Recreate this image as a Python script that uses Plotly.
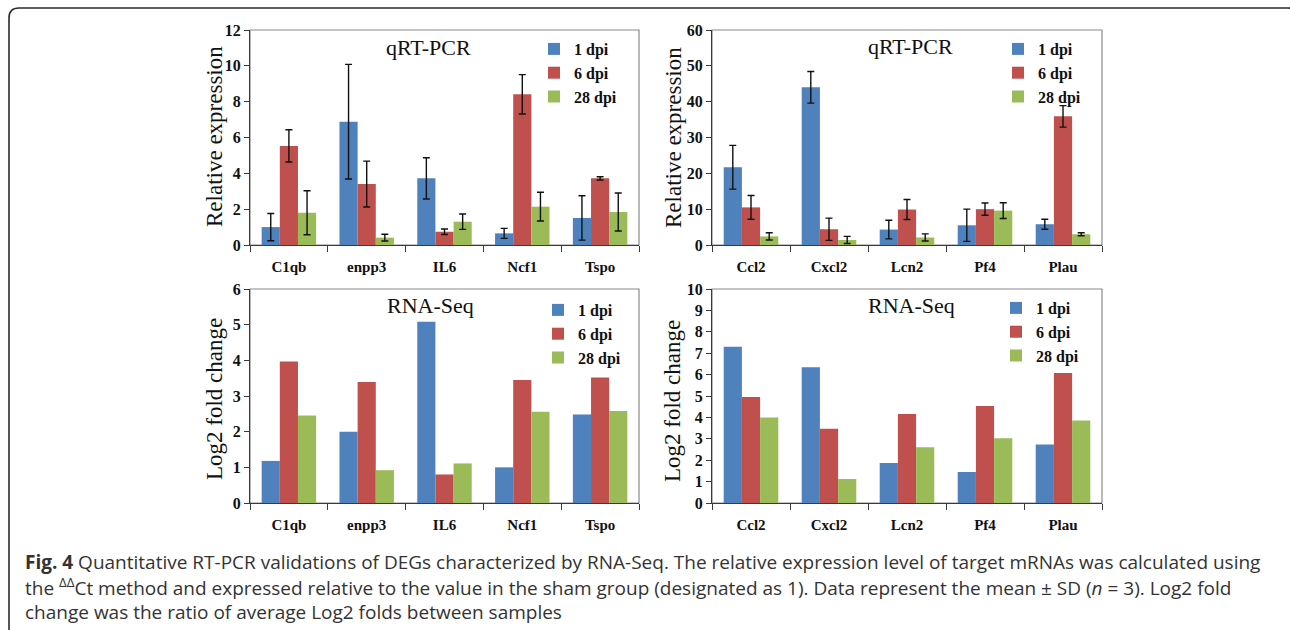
import plotly.graph_objects as go

# ---------------- data ----------------
series = ["1 dpi", "6 dpi", "28 dpi"]
colors = ["#4F81BD", "#C0504D", "#9BBB59"]

genes_a = ["C1qb", "enpp3", "IL6", "Ncf1", "Tspo"]
genes_b = ["Ccl2", "Cxcl2", "Lcn2", "Pf4", "Plau"]

# qRT-PCR relative expression (panel A genes)
qpcr_a_1dpi = [1.00, 6.88, 3.72, 0.65, 1.51]
qpcr_a_6dpi = [5.53, 3.40, 0.74, 8.41, 3.72]
qpcr_a_28dpi = [1.80, 0.41, 1.30, 2.14, 1.84]
qpcr_a_1dpi_sd = [0.76, 3.20, 1.15, 0.28, 1.24]
qpcr_a_6dpi_sd = [0.90, 1.28, 0.15, 1.10, 0.09]
qpcr_a_28dpi_sd = [1.23, 0.19, 0.43, 0.80, 1.06]

# qRT-PCR relative expression (panel B genes)
qpcr_b_1dpi = [21.7, 44.0, 4.3, 5.5, 5.8]
qpcr_b_6dpi = [10.5, 4.4, 9.9, 10.0, 35.9]
qpcr_b_28dpi = [2.4, 1.4, 2.1, 9.6, 3.0]
qpcr_b_1dpi_sd = [6.1, 4.4, 2.6, 4.5, 1.4]
qpcr_b_6dpi_sd = [3.3, 3.1, 2.8, 1.7, 3.0]
qpcr_b_28dpi_sd = [1.0, 1.0, 1.0, 2.2, 0.4]

# RNA-Seq log2 fold change
rna_a_1dpi = [1.18, 2.00, 5.08, 1.00, 2.48]
rna_a_6dpi = [3.97, 3.39, 0.80, 3.45, 3.52]
rna_a_28dpi = [2.45, 0.92, 1.11, 2.56, 2.58]

rna_b_1dpi = [7.30, 6.34, 1.87, 1.45, 2.73]
rna_b_6dpi = [4.95, 3.47, 4.16, 4.53, 6.07]
rna_b_28dpi = [3.99, 1.12, 2.60, 3.02, 3.85]

# ---------------- layout helpers ----------------
W, H = 1290, 630
def px(x):
    return x / W
def py(y):
    return 1 - y / H

SERIF = "Liberation Serif"
SANS = "Open Sans"

fig = go.Figure()

panels = [
    ("", genes_a, [qpcr_a_1dpi, qpcr_a_6dpi, qpcr_a_28dpi],
     [qpcr_a_1dpi_sd, qpcr_a_6dpi_sd, qpcr_a_28dpi_sd], "legend"),
    ("2", genes_b, [qpcr_b_1dpi, qpcr_b_6dpi, qpcr_b_28dpi],
     [qpcr_b_1dpi_sd, qpcr_b_6dpi_sd, qpcr_b_28dpi_sd], "legend2"),
    ("3", genes_a, [rna_a_1dpi, rna_a_6dpi, rna_a_28dpi], None, "legend3"),
    ("4", genes_b, [rna_b_1dpi, rna_b_6dpi, rna_b_28dpi], None, "legend4"),
]

for suf, genes, vals, sds, leg in panels:
    for i, name in enumerate(series):
        err = None
        if sds is not None:
            err = dict(type="data", array=sds[i], visible=True,
                       color="#111111", thickness=1.4, width=3.5)
        fig.add_trace(go.Bar(
            x=genes, y=vals[i], name=name,
            marker=dict(color=colors[i], line=dict(width=0)),
            error_y=err,
            xaxis="x" + suf, yaxis="y" + suf,
            legend=leg, legendgroup=leg + name,
        ))

dom_x_left = [px(250), px(639)]
dom_x_right = [px(712), px(1102)]
dom_y_top = [py(245), py(30)]
dom_y_bot = [py(503), py(289)]

axis_line = "#3a3a3a"
tickfont = dict(family=SERIF, size=15, color="#111111", weight="bold")
ytickfont = dict(family=SERIF, size=16, color="#111111", weight="bold")

def xax(domain, anchor):
    return dict(domain=domain, anchor=anchor, type="category",
                tickson="boundaries", ticks="outside", ticklen=6,
                tickcolor=axis_line, showline=True, linecolor=axis_line,
                linewidth=1.2, showgrid=False, tickfont=tickfont,
                ticklabelstandoff=8, fixedrange=True, automargin=False)

def yax(domain, anchor, ymax, dtick):
    return dict(domain=domain, anchor=anchor, range=[0, ymax],
                autorange=False, dtick=dtick, tick0=0, ticks="outside",
                ticklen=5, tickcolor=axis_line, showline=True,
                linecolor=axis_line, linewidth=1.2, showgrid=False,
                zeroline=False, tickfont=ytickfont, fixedrange=True,
                automargin=False)

legfont = dict(family=SERIF, size=16, color="#111111", weight="bold")
def legend(x, y):
    return dict(x=px(x), y=py(y), xanchor="left", yanchor="top",
                font=legfont, bgcolor="rgba(0,0,0,0)", tracegroupgap=0,
                itemwidth=30, traceorder="grouped")

fig.update_layout(
    width=W, height=H,
    margin=dict(l=0, r=0, t=0, b=0, autoexpand=False),
    paper_bgcolor="white", plot_bgcolor="white",
    barmode="group", bargap=0.3, bargroupgap=0.0,
    xaxis=xax(dom_x_left, "y"), yaxis=yax(dom_y_top, "x", 12, 2),
    xaxis2=xax(dom_x_right, "y2"), yaxis2=yax(dom_y_top, "x2", 60, 10),
    xaxis3=xax(dom_x_left, "y3"), yaxis3=yax(dom_y_bot, "x3", 6, 1),
    xaxis4=xax(dom_x_right, "y4"), yaxis4=yax(dom_y_bot, "x4", 10, 1),
    legend=legend(534, 32),
    legend2=legend(998, 32),
    legend3=legend(538, 293),
    legend4=legend(996, 291),
    showlegend=True,
)

shapes = []
for suf in ["", "2", "3", "4"]:
    shapes.append(dict(type="rect", xref=("x" + suf) + " domain",
                       yref=("y" + suf) + " domain", x0=0, x1=1, y0=0, y1=1,
                       line=dict(color="#8a8a8a", width=1.2), layer="below"))

# outer rounded frame
r = 10
x0, y0, x1, y1 = 9, 8, 1298, 640
path = (f"M {px(x0)},{py(y1)} L {px(x0)},{py(y0 + r)} "
        f"Q {px(x0)},{py(y0)} {px(x0 + r)},{py(y0)} "
        f"L {px(x1 - r)},{py(y0)} Q {px(x1)},{py(y0)} {px(x1)},{py(y0 + r)}")
shapes.append(dict(type="path", xref="paper", yref="paper", path=path,
                   line=dict(color="#2b2b2b", width=1.6)))
fig.update_layout(shapes=shapes)

ann = []
titlefont = dict(family=SERIF, size=22, color="#111111")
for text, x, y in [("qRT-PCR", 428, 48), ("qRT-PCR", 910, 47),
                   ("RNA-Seq", 430, 305), ("RNA-Seq", 911, 305)]:
    ann.append(dict(text=text, x=px(x), y=py(y), xref="paper", yref="paper",
                    xanchor="center", yanchor="middle", showarrow=False,
                    font=titlefont))

ytfont = dict(family=SERIF, size=23, color="#111111")
for text, x, y in [("Relative expression", 214, 137),
                   ("Relative expression", 673, 138),
                   ("Log2 fold change", 214, 399),
                   ("Log2 fold change", 672, 401)]:
    ann.append(dict(text=text, x=px(x), y=py(y), xref="paper", yref="paper",
                    xanchor="center", yanchor="middle", showarrow=False,
                    textangle=-90, font=ytfont))

capfont = dict(family=SANS, size=19, color="#333333")
caption = [
    ("<b>Fig. 4</b> Quantitative RT-PCR validations of DEGs characterized by RNA-Seq. "
     "The relative expression level of target mRNAs was calculated using", 562),
    ("the <sup>ΔΔ</sup>Ct method and expressed relative to the value in the sham group "
     "(designated as 1). Data represent the mean ± SD (<i>n</i> = 3). Log2 fold", 587),
    ("change was the ratio of average Log2 folds between samples", 612),
]
for text, y in caption:
    ann.append(dict(text=text, x=px(23), y=py(y), xref="paper", yref="paper",
                    xanchor="left", yanchor="middle", showarrow=False,
                    font=capfont))
fig.update_layout(annotations=ann)

fig.write_html(
    "out.html",
    config={"displayModeBar": False},
    post_script="document.body.style.margin='0px';"
                "document.body.style.overflow='hidden';",
)
